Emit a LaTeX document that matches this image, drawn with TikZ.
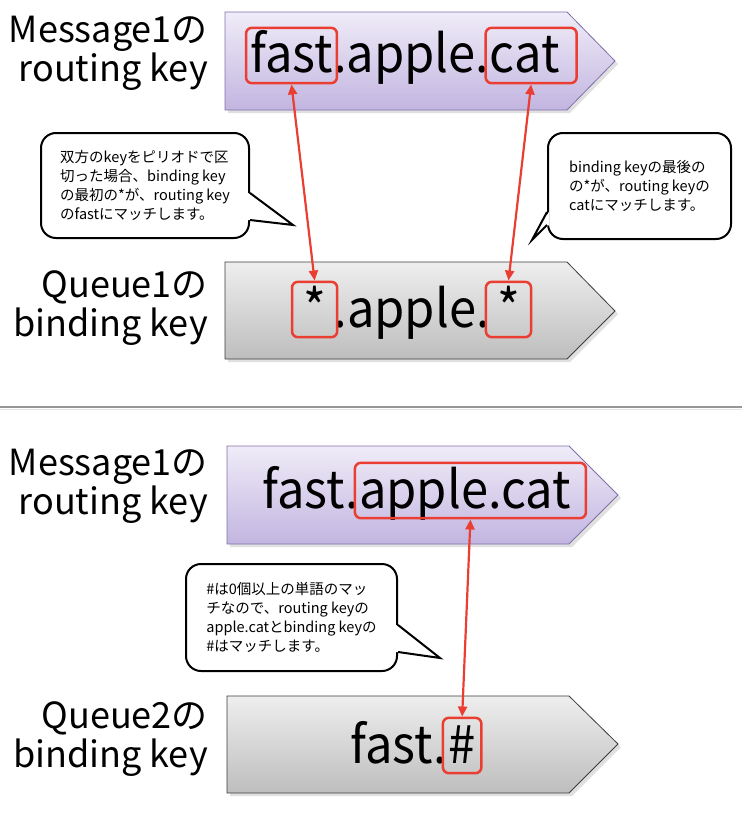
\documentclass[tikz,border=0pt]{standalone}
\usepackage{fontspec}
\setmainfont{Noto Sans CJK JP}
\newfontfamily\narrowfont[FakeStretch=0.94]{Noto Sans CJK JP}
\usetikzlibrary{calc,fit,arrows.meta}

\definecolor{keyred}{RGB}{234,62,50}
\definecolor{msgtop}{RGB}{240,236,248}
\definecolor{msgbot}{RGB}{194,181,224}
\definecolor{msgline}{RGB}{128,112,168}
\definecolor{quetop}{RGB}{238,238,238}
\definecolor{quebot}{RGB}{190,190,190}
\definecolor{queline}{RGB}{60,60,60}
\definecolor{sepgray}{RGB}{150,150,150}

\newcommand{\padkey}[1]{\rule{#1}{0pt}}

\tikzset{
  keylabel/.style={align=right, anchor=east, inner sep=0pt,
    font=\fontsize{36pt}{39pt}\selectfont},
  keyword/.style={inner sep=0pt, anchor=base west, text height=41pt, text depth=6pt,
    font=\narrowfont\fontsize{52pt}{52pt}\selectfont},
  redbox/.style={draw=keyred, line width=2.5pt, rounded corners=6pt, inner sep=4pt},
  note/.style={draw, line width=2pt, rounded corners=15pt, fill=white, align=left,
    anchor=north west, font=\fontsize{14.5pt}{19pt}\selectfont},
  link/.style={keyred, line width=2.2pt, {Triangle[length=10pt,width=9pt]}-{Triangle[length=10pt,width=9pt]}}
}

\begin{document}
\begin{tikzpicture}[x=1pt,y=1pt,yscale=-1,xscale=1]
\useasboundingbox (0,0) rectangle (742,816);

%Shape: Pentagon Arrow [Message1 top]
\fill[black!12] (228,15) -- (570,15) -- (618,64) -- (570,113) -- (228,113) -- cycle;
\shade[top color=msgtop, bottom color=msgbot, draw=msgline, line width=0.8pt] (225,12) -- (567,12) -- (615,61) -- (567,110) -- (225,110) -- cycle;
%Shape: Pentagon Arrow [Queue1]
\fill[black!12] (228,265) -- (570,265) -- (618,314) -- (570,362) -- (228,362) -- cycle;
\shade[top color=quetop, bottom color=quebot, draw=queline, line width=0.8pt] (225,262) -- (567,262) -- (615,311) -- (567,359) -- (225,359) -- cycle;

%Straight Lines [separator]
\draw[sepgray, line width=1.5pt] (0,407) -- (742,407);
\draw[black!10, line width=0.8pt] (0,409.5) -- (742,409.5);

%Shape: Pentagon Arrow [Message1 bottom]
\fill[black!12] (230,449) -- (572,449) -- (621,498) -- (572,547) -- (230,547) -- cycle;
\shade[top color=msgtop, bottom color=msgbot, draw=msgline, line width=0.8pt] (227,446) -- (569,446) -- (618,495) -- (569,544) -- (227,544) -- cycle;
%Shape: Pentagon Arrow [Queue2]
\fill[black!12] (230,699) -- (572,699) -- (621,747) -- (572,796) -- (230,796) -- cycle;
\shade[top color=quetop, bottom color=quebot, draw=queline, line width=0.8pt] (227,696) -- (569,696) -- (618,744) -- (569,793) -- (227,793) -- cycle;

% Text Node [labels]
\node[keylabel] (msglabel1) at (208,53) {Message1の\\routing key};
\node[keylabel] (quelabel1) at (208,308) {Queue1の\\binding key};
\node[keylabel] (msglabel2) at (208,486) {Message1の\\routing key};
\node[keylabel] (quelabel2) at (208,739) {Queue2の\\binding key};

% Text Node [top routing key]
\node[keyword] (fast1) at (250,73) {fast};
\node[keyword] (mid1) at (fast1.base east) {.apple.};
\node[keyword] (cat1) at (mid1.base east) {cat\padkey{13pt}};
\node[redbox, fit=(fast1)] (fastbox) {};
\node[redbox, fit=(cat1)] (catbox) {};

% Text Node [Queue1 binding key]
\node[keyword] (star1) at (296,327) {\padkey{7pt}*\padkey{7pt}};
\node[keyword] (mid2) at (star1.base east) {.apple.};
\node[keyword] (star2) at (mid2.base east) {\padkey{7pt}*\padkey{7pt}};
\node[redbox, fit=(star1)] (starbox1) {};
\node[redbox, fit=(star2)] (starbox2) {};

% Text Node [bottom routing key]
\node[keyword] (fast2) at (262,508) {fast.};
\node[keyword] (applecat) at (fast2.base east) {apple.cat\padkey{11pt}};
\node[redbox, fit=(applecat)] (applecatbox) {};

% Text Node [Queue2 binding key]
\node[keyword] (fast3) at (350,763) {fast.};
\node[keyword] (hash) at (fast3.base east) {\padkey{1pt}\#\padkey{2pt}};
\node[redbox, fit=(hash)] (hashbox) {};

%Straight Lines [matches]
\draw[link] (fastbox.south) -- (starbox1.north);
\draw[link] (catbox.south) -- (starbox2.north);
\draw[link] (applecatbox.south) -- (hashbox.north);

%Shape: Callout [note1]
\node[note, minimum width=208pt, minimum height=105pt] (note1) at (40,132)
  {双方のkeyをピリオドで区\\切った場合、binding key\\の最初の*が、routing key\\のfastにマッチします。};
\coordinate (tip1) at (293,225);
\fill[white] ($(note1.north east)+(-1.8,61)$) -- (tip1) -- ($(note1.north east)+(-1.8,88)$) -- cycle;
\draw[line width=2pt, line join=miter] ($(note1.north east)+(0,61)$) -- (tip1) -- ($(note1.north east)+(0,88)$);

%Shape: Callout [note2]
\node[note, minimum width=183pt, minimum height=106pt] (note2) at (547,132)
  {binding keyの最後の\\の*が、routing keyの\\catにマッチします。};
\coordinate (tip2) at (532,240);
\fill[white] ($(note2.north west)+(1.8,80)$) -- (tip2) -- ($(note2.north west)+(1.8,93)$) -- cycle;
\draw[line width=2pt, line join=miter] ($(note2.north west)+(0,80)$) -- (tip2) -- ($(note2.north west)+(0,93)$);

%Shape: Callout [note3]
\node[note, minimum width=211pt, minimum height=107pt] (note3) at (185,563)
  {\#は0個以上の単語のマッ\\チなので、routing keyの\\apple.catとbinding keyの\\\#はマッチします。};
\coordinate (tip3) at (440,658);
\fill[white] ($(note3.north east)+(-1.8,62)$) -- (tip3) -- ($(note3.north east)+(-1.8,89)$) -- cycle;
\draw[line width=2pt, line join=miter] ($(note3.north east)+(0,62)$) -- (tip3) -- ($(note3.north east)+(0,89)$);

\end{tikzpicture}
\end{document}
